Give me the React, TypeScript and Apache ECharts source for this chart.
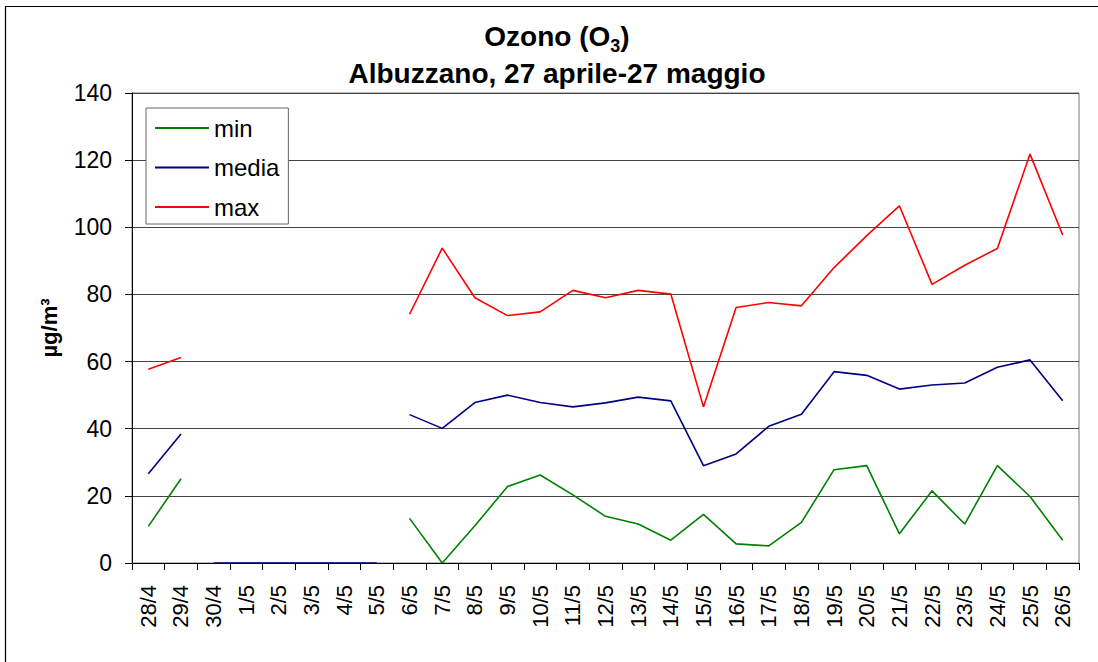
import React, { useEffect, useRef } from "react";
import * as echarts from "echarts";

const categories = [
  "28/4", "29/4", "30/4", "1/5", "2/5", "3/5", "4/5", "5/5", "6/5", "7/5",
  "8/5", "9/5", "10/5", "11/5", "12/5", "13/5", "14/5", "15/5", "16/5", "17/5",
  "18/5", "19/5", "20/5", "21/5", "22/5", "23/5", "24/5", "25/5", "26/5",
];

const minValues = [
  10.9, 25.1, null, null, null, null, null, null,
  13.3, 0, 11.1, 22.8, 26.2, 20.3, 13.9, 11.6, 6.8, 14.5, 5.7, 5.1,
  12.1, 27.8, 29.0, 8.7, 21.5, 11.6, 29.0, 19.8, 6.8,
];

const mediaValues = [
  26.6, 38.4, null, null, null, null, null, null,
  44.2, 40.1, 47.8, 50.0, 47.8, 46.5, 47.7, 49.4, 48.3, 29.0, 32.5, 40.7,
  44.3, 57.0, 55.9, 51.8, 53.0, 53.6, 58.3, 60.5, 48.3,
];

const maxValues = [
  57.7, 61.2, null, null, null, null, null, null,
  74.1, 93.8, 79.0, 73.7, 74.8, 81.2, 79.0, 81.2, 80.1, 46.5, 76.1, 77.6,
  76.6, 88.0, 97.5, 106.4, 83.0, 88.7, 93.7, 121.8, 97.7,
];

// segment of zero values (no data) drawn in the "media" colour
const mediaZeroValues = [
  null, null, 0, 0, 0, 0, 0, 0,
  null, null, null, null, null, null, null, null, null, null, null, null,
  null, null, null, null, null, null, null, null, null,
];

const yTicks = { min: 0, max: 140, interval: 20 };

const FONT = "'Liberation Sans', Arial, sans-serif";

export default function App() {
  const ref = useRef<HTMLDivElement>(null);

  useEffect(() => {
    document.body.style.margin = "0";
    if (!ref.current) return;
    const chart = echarts.init(ref.current, undefined, { renderer: "svg" });
    const lineW = 1.6;
    chart.setOption({
      animation: false,
      backgroundColor: "#ffffff",
      textStyle: { fontFamily: FONT },
      graphic: [
        {
          type: "rect",
          shape: { x: 5.5, y: 6.5, width: 1200, height: 1000 },
          style: { fill: "none", stroke: "#000", lineWidth: 1.2 },
          silent: true,
          z: -1,
        },
        {
          type: "text",
          x: 557,
          y: 18,
          silent: true,
          style: {
            text: "{a|Ozono (O}{s|3}{a|)}\n{a|Albuzzano, 27 aprile-27 maggio}",
            align: "center",
            verticalAlign: "top",
            rich: {
              a: { fontSize: 28, fontWeight: "bold", fontFamily: FONT, fill: "#000", lineHeight: 37 },
              s: { fontSize: 18, fontWeight: "bold", fontFamily: FONT, fill: "#000", lineHeight: 24, verticalAlign: "bottom" },
            },
          },
        },
      ],
      legend: {
        orient: "vertical",
        left: 146,
        top: 108,
        padding: [8, 9, 5, 9],
        itemGap: 15.5,
        itemWidth: 54,
        itemHeight: 2,
        icon: "rect",
        backgroundColor: "#fff",
        borderColor: "#666",
        borderWidth: 1,
        data: ["min", "media", "max"],
        textStyle: { fontSize: 24, fontFamily: FONT, color: "#000", lineHeight: 22 },
      },
      grid: {
        left: 132,
        right: 19,
        top: 93,
        bottom: 99,
        show: true,
        borderColor: "#777",
        borderWidth: 1,
        containLabel: false,
      },
      xAxis: {
        type: "category",
        data: categories,
        boundaryGap: true,
        axisLine: { lineStyle: { color: "#000", width: 1 } },
        axisTick: { show: true, alignWithLabel: false, interval: 0, length: 7, lineStyle: { color: "#000" } },
        axisLabel: {
          interval: 0,
          rotate: 90,
          margin: 22,
          fontSize: 22,
          fontFamily: FONT,
          color: "#000",
        },
        splitLine: { show: false },
      },
      yAxis: {
        type: "value",
        min: yTicks.min,
        max: yTicks.max,
        interval: yTicks.interval,
        name: "µg/m³",
        nameLocation: "middle",
        nameGap: 72,
        nameTextStyle: { fontSize: 22, fontWeight: "bold", fontFamily: FONT, color: "#000" },
        axisLine: { show: true, lineStyle: { color: "#000", width: 1 } },
        axisTick: { show: true, length: 7, lineStyle: { color: "#000" } },
        axisLabel: { margin: 20, fontSize: 23, fontFamily: FONT, color: "#000" },
        splitLine: { show: true, lineStyle: { color: "#444", width: 1 } },
      },
      series: [
        {
          name: "min",
          type: "line",
          data: minValues,
          symbol: "none",
          connectNulls: false,
          color: "#008000",
          lineStyle: { color: "#008000", width: lineW },
        },
        {
          name: "media",
          type: "line",
          data: mediaValues,
          symbol: "none",
          connectNulls: false,
          color: "#000080",
          lineStyle: { color: "#000080", width: lineW },
        },
        {
          name: "max",
          type: "line",
          data: maxValues,
          symbol: "none",
          connectNulls: false,
          color: "#ff0000",
          lineStyle: { color: "#ff0000", width: lineW },
        },
        {
          name: "media",
          type: "line",
          data: mediaZeroValues,
          symbol: "none",
          connectNulls: false,
          color: "#000080",
          lineStyle: { color: "#000080", width: lineW },
        },
      ],
    });
    return () => chart.dispose();
  }, []);

  return <div ref={ref} style={{ width: 1098, height: 662 }} />;
}
